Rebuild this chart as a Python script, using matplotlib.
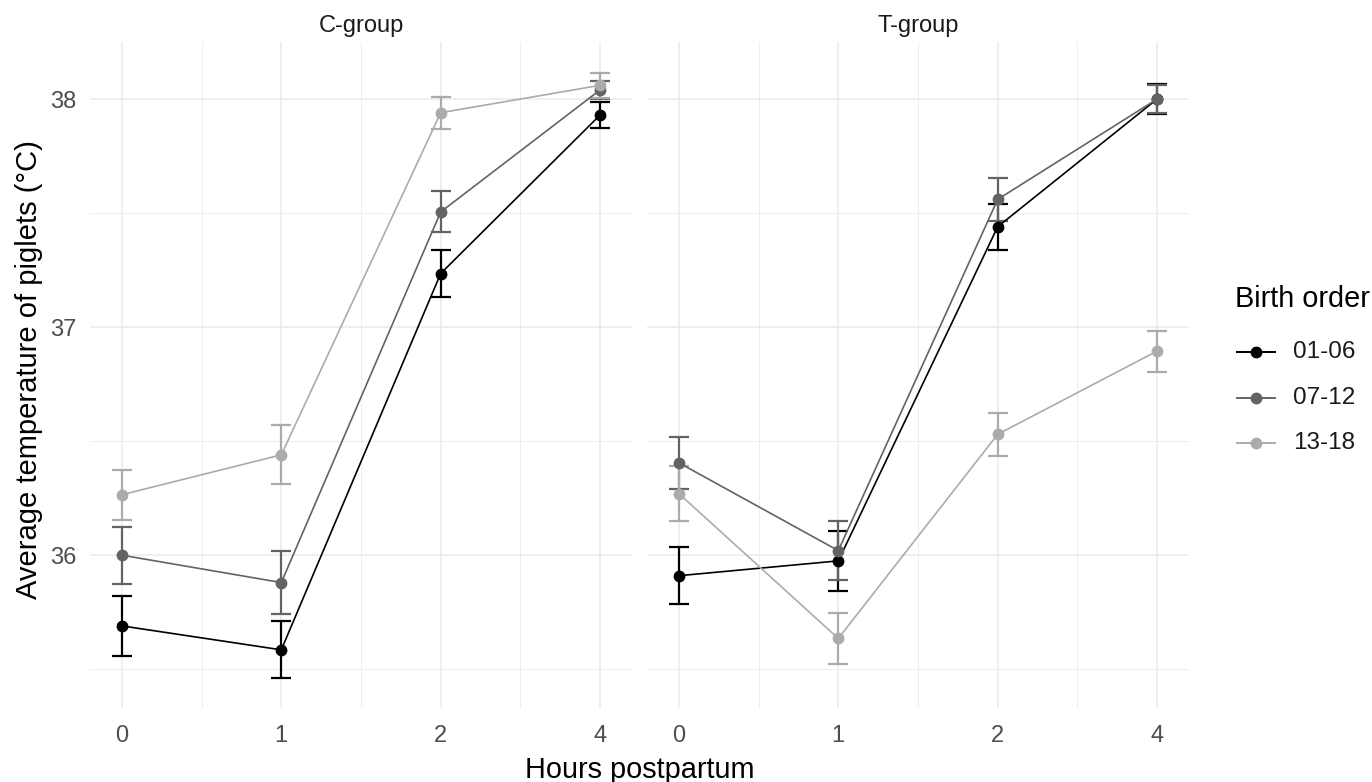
import matplotlib
matplotlib.use("Agg")
import matplotlib.pyplot as plt
from matplotlib.lines import Line2D
import numpy as np

plt.rcParams['font.family'] = ['Liberation Sans', 'DejaVu Sans']

hours = ["0", "1", "2", "4"]
groups = ["C-group", "T-group"]
birth_orders = ["01-06", "07-12", "13-18"]

# C-group means and error half-widths
c_0106 = [35.69, 35.585, 37.235, 37.93]
c_0106_err = [0.13, 0.125, 0.105, 0.055]
c_0712 = [36.00, 35.88, 37.505, 38.04]
c_0712_err = [0.125, 0.14, 0.09, 0.04]
c_1318 = [36.265, 36.44, 37.94, 38.06]
c_1318_err = [0.11, 0.13, 0.07, 0.055]

# T-group means and error half-widths
t_0106 = [35.91, 35.975, 37.44, 38.0]
t_0106_err = [0.125, 0.13, 0.10, 0.065]
t_0712 = [36.405, 36.02, 37.56, 38.0]
t_0712_err = [0.115, 0.13, 0.095, 0.06]
t_1318 = [36.27, 35.635, 36.53, 36.895]
t_1318_err = [0.12, 0.11, 0.095, 0.09]

data = {
    "C-group": [(c_0106, c_0106_err), (c_0712, c_0712_err), (c_1318, c_1318_err)],
    "T-group": [(t_0106, t_0106_err), (t_0712, t_0712_err), (t_1318, t_1318_err)],
}
colors = ["#000000", "#636363", "#ABABAB"]

W, H = 1372, 782
fig = plt.figure(figsize=(W / 100, H / 100), dpi=100)

def px_axes(x0, y0, x1, y1):
    return fig.add_axes([x0 / W, 1 - y1 / H, (x1 - x0) / W, (y1 - y0) / H])

def fx(px):
    return px / W

def fy(py):
    return 1 - py / H

panels = [(90, 42, 632, 708), (647, 42, 1189, 708)]
grid_c = "#EBEBEB"
for gi, (g, box) in enumerate(zip(groups, panels)):
    ax = px_axes(*box)
    x = np.arange(len(hours))
    ax.set_xlim(-0.2, len(hours) - 1 + 0.2)
    ax.set_ylim(35.33, 38.25)
    ax.set_xticks(x)
    ax.set_xticklabels(hours)
    ax.set_xticks(x[:-1] + 0.5, minor=True)
    ax.set_yticks([36, 37, 38])
    ax.set_yticks([35.5, 36.5, 37.5], minor=True)
    ax.grid(True, which="major", color=grid_c, lw=1.1, zorder=0)
    ax.grid(True, which="minor", color=grid_c, lw=0.6, zorder=0)
    for s in ax.spines.values():
        s.set_visible(False)
    ax.tick_params(which="both", length=0)
    ax.tick_params(axis="both", labelsize=17, labelcolor="#4D4D4D")
    ax.tick_params(axis="x", pad=12)
    ax.tick_params(axis="y", pad=10)
    if gi == 1:
        ax.set_yticklabels([])
    ax.set_title(g, fontsize=17, color="#1A1A1A", pad=7)
    for bi, (means, errs) in enumerate(data[g]):
        col = colors[bi]
        ax.errorbar(x, means, yerr=errs, fmt="none", ecolor=col, elinewidth=1.6,
                    capsize=7.5, capthick=1.6, zorder=2 + bi)
    for bi, (means, errs) in enumerate(data[g]):
        col = colors[bi]
        ax.plot(x, means, color=col, lw=1.2, marker="o", markersize=7.5,
                zorder=5 + bi, label=birth_orders[bi])

fig.text(29 / W, 1 - 370 / H, "Average temperature of piglets (°C)", rotation=90,
         ha="center", va="center", fontsize=21, color="#000000")
fig.text(640 / W, 1 - 770 / H, "Hours postpartum", ha="center", va="center",
         fontsize=20.8, color="#000000")

# legend (drawn in figure space)
fig.text(fx(1235), fy(299), "Birth order", ha="left", va="center",
         fontsize=20.8, color="#000000")
row_y = [352, 398, 443]
for bi, lab in enumerate(birth_orders):
    y = fy(row_y[bi])
    fig.add_artist(Line2D([fx(1237), fx(1275)], [y, y], color=colors[bi], lw=1.4,
                          transform=fig.transFigure))
    fig.add_artist(Line2D([fx(1256)], [y], color=colors[bi], marker="o",
                          markersize=7.5, lw=0, transform=fig.transFigure))
    fig.text(fx(1293), y, lab, ha="left", va="center", fontsize=17.5,
             color="#1A1A1A")

fig.savefig("out.png", dpi=100)
